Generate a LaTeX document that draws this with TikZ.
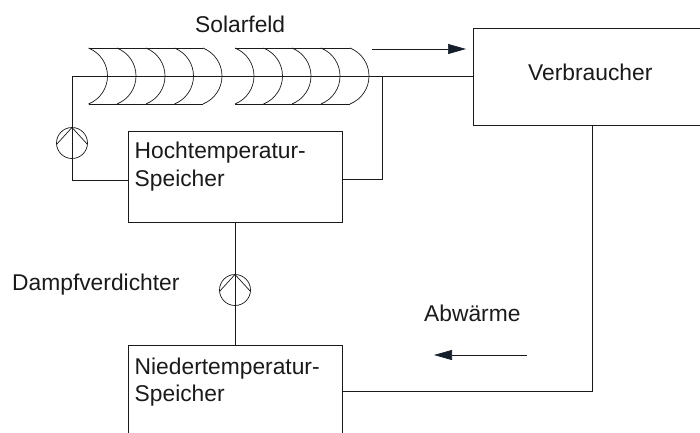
\documentclass[tikz,border=0pt]{standalone}
\usepackage{fontspec}
\setmainfont{Liberation Sans}
\usetikzlibrary{positioning,arrows.meta}
\definecolor{planInk}{HTML}{1A1A1A}
\definecolor{tipInk}{HTML}{141E2C}
\tikzset{
  x=1pt,y=-1pt,
  rohr/.style={draw=planInk, line width=0.7pt},
  speicher/.style={draw=planInk, line width=0.7pt, fill=white, rectangle, minimum width=214pt,
    inner sep=0pt, outer sep=0pt, anchor=north west},
  beschr/.style={font=\fontsize{22.8}{27}\selectfont, text=planInk, align=left, inner sep=0pt},
  flussarrow/.style={planInk, line width=0.7pt, -{Triangle[length=18pt,width=10pt,color=tipInk]}},
}
% one trough of the solar field, tip at lower left
\newcommand{\rinne}[1]{%
  \draw[rohr] (#1-19,104) .. controls (#1-7,99) and (#1,88) .. (#1,76)
    .. controls (#1,64) and (#1-7,53) .. (#1-19,48);
}
% pump symbol: circle with top-inlet wedge
\newcommand{\pumpe}[3]{%
  \node[circle,draw=planInk,line width=0.7pt,fill=white,minimum size=31pt,inner sep=0pt,outer sep=0pt] (#3) at (#1,#2) {};
  \draw[rohr] (#3.north) -- (#3.south);
  \draw[rohr] (#3.185) -- (#3.north) -- (#3.355);
}
\begin{document}
\begin{tikzpicture}
\clip (0,0) rectangle (700,432);

% --- boxes ---
\node[speicher,minimum width=240pt,minimum height=97pt] (verbraucher) at (473,28) {};
\node[speicher,minimum height=91pt] (hoch) at (128,131.5) {};
\node[speicher,minimum height=100pt] (nieder) at (128,345) {};

% --- solar field ---
\foreach \xx in {107.5,136,165,193.5,222,254,282.5,311,340,369}{
  \rinne{\xx}
}
\draw[rohr] (89,104) -- (203,104);
\draw[rohr] (235,104) -- (350,104);
\draw[rohr] (89,48) -- (203,48);
\draw[rohr] (235,48) -- (350,48);

% --- pipes ---
\coordinate (obenlinks) at (72,76);
\coordinate (abzweig) at (382,76);
\pumpe{72}{143}{pumpeA}
\pumpe{235}{290}{pumpeB}
\draw[rohr] (obenlinks) -- (verbraucher.west |- obenlinks);
\draw[rohr] (obenlinks) -- (pumpeA.north);
\draw[rohr] (pumpeA.south) |- (hoch.west |- 0,180);
\draw[rohr] (abzweig) |- (hoch.east |- 0,179);
\draw[rohr] (hoch.south -| pumpeB) -- (pumpeB.north);
\draw[rohr] (pumpeB.south) -- (nieder.north -| pumpeB);
\draw[rohr] (verbraucher.south -| 592,0) |- (nieder.east |- 0,391);

% --- arrows ---
\coordinate (flussA) at (372,49);
\coordinate (flussAend) at (466,49);
\coordinate (flussB) at (527,355);
\coordinate (flussBend) at (434,355);
\draw[flussarrow] (flussA) -- (flussAend);
\draw[flussarrow] (flussB) -- (flussBend);

% --- labels ---
\node[beschr,anchor=base west] (solar) at (195,32) {Solarfeld};
\node[beschr,anchor=base west] (verbr) at (528,80) {Verbraucher};
\node[beschr,anchor=base west] (dampf) at (12,290) {Dampfverdichter};
\node[beschr,anchor=base west] (abw) at (424,321) {Abwärme};
\node[beschr,anchor=base west] (hochtxt) at (134.5,158) {Hochtemperatur-};
\node[beschr,anchor=base west] (hochtxtb) at (134.5,186) {Speicher};
\node[beschr,anchor=base west] (niedtxt) at (134.5,374) {Niedertemperatur-};
\node[beschr,anchor=base west] (niedtxtb) at (134.5,401) {Speicher};
\end{tikzpicture}
\end{document}
